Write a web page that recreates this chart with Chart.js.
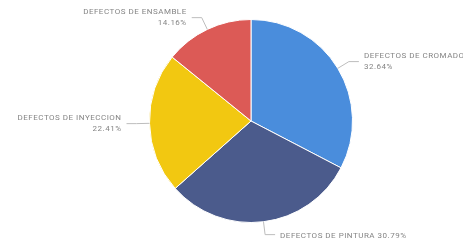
<!DOCTYPE html>
<html>
<head>
<meta charset="utf-8">
<script src="https://cdn.jsdelivr.net/npm/chart.js@4.4.1/dist/chart.umd.min.js"></script>
<style>
  html, body { margin: 0; padding: 0; background: #fff; }
  #wrap { width: 463px; height: 240px; }
</style>
</head>
<body>
<div id="wrap"><canvas id="pie" width="463" height="240"></canvas></div>
<script>
// categories and values (percent of total defects)
const categories = ["DEFECTOS DE CROMADO", "DEFECTOS DE PINTURA", "DEFECTOS DE INYECCION", "DEFECTOS DE ENSAMBLE"];
const values = [32.64, 30.79, 22.41, 14.16];
const colors = ["#4a8ddc", "#4b5b8c", "#f2c811", "#dc5a56"];

// leader lines + labels, drawn from the arc geometry
const pieLabels = {
  id: "pieLabels",
  afterDatasetsDraw(chart) {
    const ctx = chart.ctx;
    const arcs = chart.getDatasetMeta(0).data;
    ctx.save();
    ctx.font = "8px Roboto";
    ctx.letterSpacing = "0.5px";
    ctx.fillStyle = "#858585";
    ctx.strokeStyle = "#bdbdbd";
    ctx.lineWidth = 1;
    ctx.textBaseline = "middle";

    arcs.forEach((arc, i) => {
      const mid = (arc.startAngle + arc.endAngle) / 2;
      const r = arc.outerRadius;
      const px = arc.x + Math.cos(mid) * r;
      const py = arc.y + Math.sin(mid) * r;
      const ex = px + Math.cos(mid) * 13;
      const ey = py + Math.sin(mid) * 13;
      const right = Math.cos(mid) >= 0;
      const hx = ex + (right ? 10 : -10);

      ctx.beginPath();
      ctx.moveTo(px, py);
      ctx.lineTo(ex, ey);
      ctx.lineTo(hx, ey);
      ctx.stroke();

      const tx = hx + (right ? 5 : -5);
      ctx.textAlign = right ? "left" : "right";
      const pct = values[i].toFixed(2) + "%";
      // bottom label sits on one line
      if (Math.sin(mid) > 0.95) {
        ctx.fillText(categories[i] + " " + pct, tx, ey + 1);
      } else {
        ctx.fillText(categories[i], tx, ey - 5.5);
        ctx.fillText(pct, tx, ey + 5.5);
      }
    });
    ctx.restore();
  }
};

new Chart(document.getElementById("pie"), {
  type: "pie",
  data: {
    labels: categories,
    datasets: [{
      data: values,
      backgroundColor: colors,
      borderColor: "#ffffff",
      borderWidth: 1
    }]
  },
  options: {
    responsive: false,
    animation: false,
    layout: { padding: { left: 100, right: 61, top: 19, bottom: 17 } },
    plugins: {
      legend: { display: false },
      tooltip: { enabled: false }
    }
  },
  plugins: [pieLabels]
});
</script>
</body>
</html>
